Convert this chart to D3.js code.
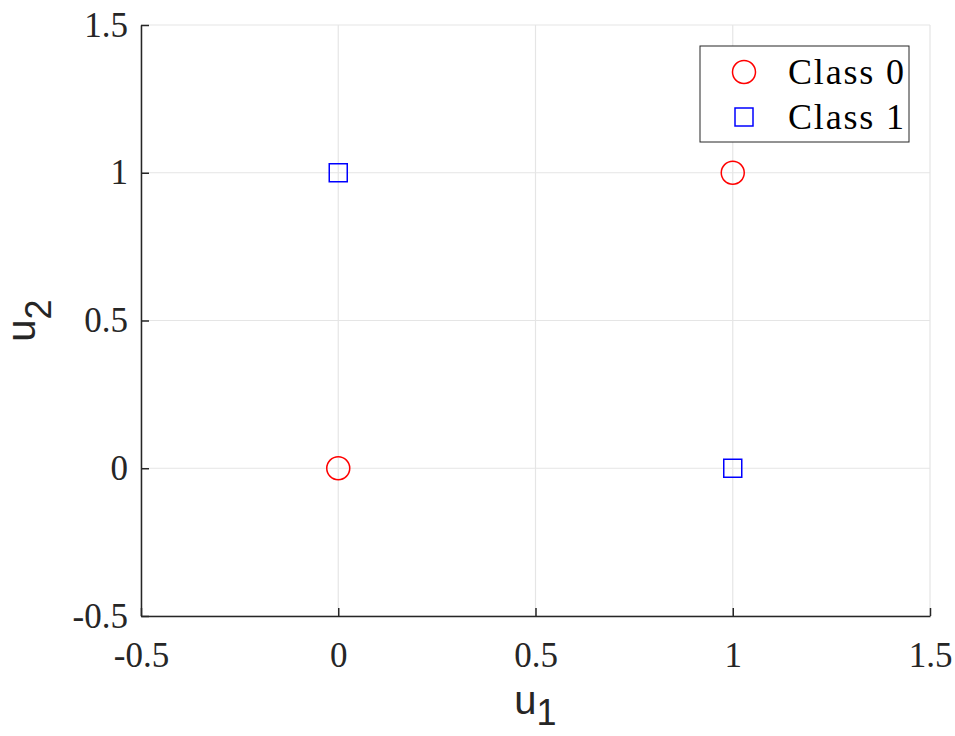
<!DOCTYPE html>
<html><head><meta charset="utf-8">
<script src="https://cdn.jsdelivr.net/npm/d3@7"></script>
<style>body{margin:0;background:#fff}</style>
</head><body>
<svg id="c" width="955" height="736"></svg>
<script>
const class0X = [0, 1];
const class0Y = [0, 1];
const class1X = [0, 1];
const class1Y = [1, 0];
const xTicks = [-0.5, 0, 0.5, 1, 1.5];
const yTicks = [-0.5, 0, 0.5, 1, 1.5];
const xTickLabels = ["-0.5", "0", "0.5", "1", "1.5"];
const yTickLabels = ["-0.5", "0", "0.5", "1", "1.5"];
const legendLabels = ["Class 0", "Class 1"];

const svg = d3.select("#c");
const L = 141, R = 930, T = 25, B = 616;
const x = d3.scaleLinear().domain([-0.5, 1.5]).range([L, R]);
const y = d3.scaleLinear().domain([-0.5, 1.5]).range([B, T]);
const serif = "'Liberation Serif', 'DejaVu Serif', serif";
const sans = "'Liberation Sans', Arial, sans-serif";

// grid
const g = svg.append("g");
g.selectAll(".gx").data(xTicks).join("line")
  .attr("x1", d => x(d)).attr("x2", d => x(d)).attr("y1", T).attr("y2", B)
  .attr("stroke", "#e5e5e5").attr("stroke-width", 1.2);
g.selectAll(".gy").data(yTicks).join("line")
  .attr("y1", d => y(d)).attr("y2", d => y(d)).attr("x1", L).attr("x2", R)
  .attr("stroke", "#e5e5e5").attr("stroke-width", 1.2);

// axes
const xAxis = d3.axisBottom(x).tickValues(xTicks).tickFormat((d, i) => xTickLabels[i]).tickSizeInner(-8).tickSizeOuter(0).tickPadding(26);
const yAxis = d3.axisLeft(y).tickValues(yTicks).tickFormat((d, i) => yTickLabels[i]).tickSizeInner(-8).tickSizeOuter(0).tickPadding(13);
const gx = svg.append("g").attr("transform", `translate(0,${B})`).call(xAxis);
const gy = svg.append("g").attr("transform", `translate(${L},0)`).call(yAxis);
[gx, gy].forEach(a => {
  a.select(".domain").attr("stroke", "#262626").attr("stroke-width", 1.5);
  a.selectAll(".tick line").attr("stroke", "#262626").attr("stroke-width", 1.5);
  a.selectAll(".tick text").attr("font-family", serif).attr("font-size", 35).attr("fill", "#262626");
});
gx.selectAll(".tick text").attr("dy", "0.71em");
gy.selectAll(".tick text").attr("dy", "0.32em");

// points
svg.append("g").selectAll("circle").data(class0X).join("circle")
  .attr("cx", (d, i) => x(d)).attr("cy", (d, i) => y(class0Y[i])).attr("r", 11.5)
  .attr("fill", "none").attr("stroke", "#ff0000").attr("stroke-width", 1.5);
svg.append("g").selectAll("rect").data(class1X).join("rect")
  .attr("x", (d, i) => x(d) - 9).attr("y", (d, i) => y(class1Y[i]) - 9)
  .attr("width", 18).attr("height", 18)
  .attr("fill", "none").attr("stroke", "#0000ff").attr("stroke-width", 1.5);

// labels
const xl = svg.append("text").attr("x", x(0.5)).attr("y", 714).attr("text-anchor", "middle")
  .attr("font-family", sans).attr("font-size", 40).attr("fill", "#262626");
xl.append("tspan").text("u");
xl.append("tspan").attr("dy", 11).attr("font-size", 36).text("1");
const yl = svg.append("text").attr("transform", `translate(35,${y(0.5)}) rotate(-90)`).attr("text-anchor", "middle")
  .attr("font-family", sans).attr("font-size", 40).attr("fill", "#262626");
yl.append("tspan").text("u");
yl.append("tspan").attr("dy", 16).attr("font-size", 36).text("2");

// legend
const lg = svg.append("g");
lg.append("rect").attr("x", 700).attr("y", 46).attr("width", 209).attr("height", 96)
  .attr("fill", "#fff").attr("stroke", "#262626").attr("stroke-width", 1);
lg.append("circle").attr("cx", 744).attr("cy", 72).attr("r", 11.5)
  .attr("fill", "none").attr("stroke", "#ff0000").attr("stroke-width", 1.5);
lg.append("rect").attr("x", 735).attr("y", 108).attr("width", 18).attr("height", 18)
  .attr("fill", "none").attr("stroke", "#0000ff").attr("stroke-width", 1.5);
lg.selectAll("text").data(legendLabels).join("text")
  .attr("x", 788).attr("y", (d, i) => 71 + i * 45).attr("dy", "0.35em")
  .attr("textLength", 116)
  .attr("font-family", serif).attr("font-size", 36).attr("fill", "#000").text(d => d);
</script>
</body></html>
